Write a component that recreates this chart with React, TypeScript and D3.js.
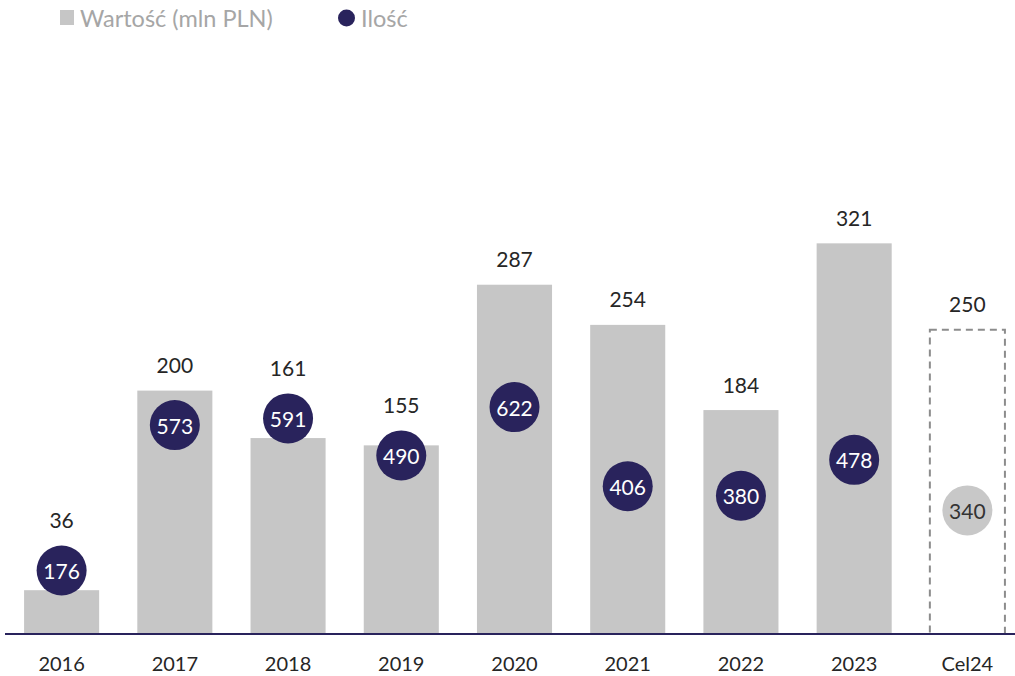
import React from 'react'
import * as d3 from 'd3'

const categories = ['2016', '2017', '2018', '2019', '2020', '2021', '2022', '2023', 'Cel24']
const values = [36, 200, 161, 155, 287, 254, 184, 321, 250]
const counts = [176, 573, 591, 490, 622, 406, 380, 478, 340]
const legendLabels = ['Wartość (mln PLN)', 'Ilość']

const width = 1015
const height = 676
const baseline = 634
const font = 'Lato, "Open Sans", sans-serif'
const navy = '#29235c'
const grey = '#c6c6c6'
const textCol = '#262626'

function App() {
    const x = d3
        .scaleBand()
        .domain(categories)
        .range([5, 1024])
        .paddingInner(0.337)
        .paddingOuter(0.1685)

    const y = d3.scaleLinear().domain([0, 350]).range([baseline, baseline - 350 * 1.217])
    const y2 = d3.scaleLinear().domain([0, 1160]).range([635, 635 - 1160 * 0.3664])

    const r = 25
    const last = categories.length - 1

    return (
        <svg width={width} height={height} style={{ position: 'absolute', left: 0, top: 0 }}>
            {/* legend */}
            <rect x={60} y={10} width={14} height={15} fill={grey} />
            <text x={80} y={27} fontFamily={font} fontSize={23.5} fill="#a6a6a6">
                {legendLabels[0]}
            </text>
            <circle cx={346.5} cy={18} r={8.5} fill={navy} />
            <text x={361} y={27} fontFamily={font} fontSize={23.5} fill="#a6a6a6">
                {legendLabels[1]}
            </text>

            {categories.map((c, i) => {
                const bx = x(c) as number
                const top = y(values[i])
                const cy = y2(counts[i])
                const cx = bx + x.bandwidth() / 2
                const target = i === last
                let ly = top - 26
                if (Math.abs(ly - cy) < r + 12) ly = Math.min(ly, cy - r - 26)
                return (
                    <g key={c}>
                        {target ? (
                            <rect
                                x={bx}
                                y={top}
                                width={x.bandwidth()}
                                height={baseline - top}
                                fill="none"
                                stroke="#8c8c8c"
                                strokeWidth={2}
                                strokeDasharray="7,5"
                            />
                        ) : (
                            <rect x={bx} y={top} width={x.bandwidth()} height={baseline - top} fill={grey} />
                        )}
                        <text
                            x={cx}
                            y={ly}
                            textAnchor="middle"
                            dominantBaseline="central"
                            fontFamily={font}
                            fontSize={21}
                            fill={textCol}
                        >
                            {values[i]}
                        </text>
                        <circle cx={cx} cy={cy} r={r} fill={target ? '#c8c8c8' : navy} />
                        <text
                            x={cx}
                            y={cy}
                            textAnchor="middle"
                            dominantBaseline="central"
                            fontFamily={font}
                            fontSize={21}
                            fill={target ? '#333' : '#fff'}
                        >
                            {counts[i]}
                        </text>
                        <text
                            x={cx}
                            y={663}
                            textAnchor="middle"
                            dominantBaseline="central"
                            fontFamily={font}
                            fontSize={20}
                            fill={textCol}
                        >
                            {c}
                        </text>
                    </g>
                )
            })}

            <line x1={5} x2={width} y1={baseline} y2={baseline} stroke={navy} strokeWidth={2} />
        </svg>
    )
}

export default App
